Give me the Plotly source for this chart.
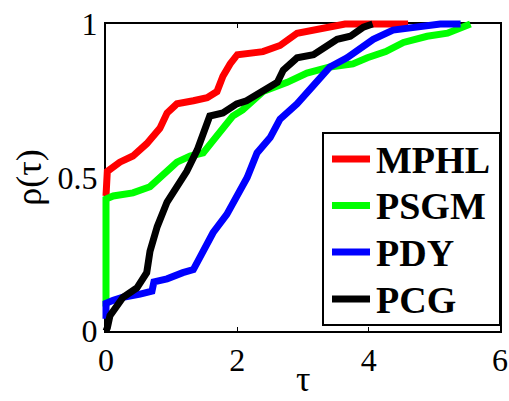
import plotly.graph_objects as go

# ---- data ----
names = ["MPHL", "PSGM", "PDY", "PCG"]
colors = ["#ff0000", "#00ff00", "#0000ff", "#000000"]

tau_mphl = [0, 0, 0.02, 0.21, 0.41, 0.62, 0.82, 0.93, 1.08, 1.33, 1.54, 1.69, 1.78, 1.89,
            2.0, 2.39, 2.65, 2.91, 3.16, 3.52, 3.64, 4.3, 4.45, 4.6]
rho_mphl = [0.44, 0.50, 0.52, 0.55, 0.57, 0.61, 0.66, 0.71, 0.74, 0.75, 0.76, 0.78, 0.83, 0.87,
            0.90, 0.91, 0.93, 0.97, 0.98, 0.995, 1.0, 1.0, 1.0, 1.0]

tau_psgm = [0, 0, 0.11, 0.41, 0.67, 0.87, 1.08, 1.28, 1.48, 1.63, 1.78, 1.93, 2.08, 2.39,
            2.76, 3.06, 3.41, 3.76, 3.98, 4.26, 4.53, 4.89, 5.2, 5.55]
rho_psgm = [0.08, 0.43, 0.44, 0.45, 0.47, 0.51, 0.55, 0.57, 0.58, 0.62, 0.66, 0.70, 0.72, 0.78,
            0.81, 0.84, 0.86, 0.87, 0.89, 0.91, 0.94, 0.96, 0.97, 1.0]

tau_pdy = [0, 0, 0.11, 0.26, 0.52, 0.70, 0.73, 0.93, 1.17, 1.33, 1.43, 1.63, 1.84, 1.94,
           2.15, 2.3, 2.5, 2.65, 2.91, 3.16, 3.41, 3.67, 3.92, 4.07, 4.37, 4.74, 5.09, 5.40]
rho_pdy = [0.04, 0.09, 0.10, 0.11, 0.12, 0.13, 0.16, 0.17, 0.19, 0.20, 0.24, 0.32, 0.38, 0.42,
           0.50, 0.58, 0.63, 0.69, 0.74, 0.80, 0.86, 0.89, 0.93, 0.95, 0.98, 0.99, 1.0, 1.0]

tau_pcg = [0, 0.02, 0.06, 0.26, 0.47, 0.62, 0.67, 0.78, 0.93, 1.13, 1.23, 1.39, 1.48, 1.58,
           1.78, 1.99, 2.14, 2.39, 2.61, 2.70, 2.91, 3.16, 3.31, 3.52, 3.72, 3.92, 4.06]
rho_pcg = [0.0, 0.01, 0.05, 0.11, 0.14, 0.19, 0.26, 0.34, 0.42, 0.49, 0.52, 0.59, 0.64, 0.70,
           0.71, 0.74, 0.75, 0.78, 0.81, 0.85, 0.89, 0.90, 0.92, 0.95, 0.96, 0.99, 1.0]

x_ticks = [0, 2, 4, 6]
y_ticks = [0, 0.5, 1]
y_ticktext = ["0", "0.5", "1"]
x_range = [0, 6]
y_range = [0, 1]
x_title = "τ"
y_title = "ρ(τ)"

series = [(tau_mphl, rho_mphl), (tau_psgm, rho_psgm), (tau_pdy, rho_pdy), (tau_pcg, rho_pcg)]

W, H = 509, 401
# box (axes frame) in pixels
BX0, BX1, BY0, BY1 = 106, 500, 24, 331
PAD = 6  # extra room around the frame so thick lines are not clipped
L, R, T, B = BX0 - PAD, W - (BX1 + PAD), BY0 - PAD, H - (BY1 + PAD)
PW, PH = W - L - R, H - T - B

def px_x(p):  # pixel -> paper fraction
    return (p - L) / PW

def px_y(p):
    return (H - B - p) / PH

# data axes span the full padded area, with ranges widened to match the frame
ux = (x_range[1] - x_range[0]) / (BX1 - BX0)
uy = (y_range[1] - y_range[0]) / (BY1 - BY0)
x2_range = [x_range[0] - PAD * ux, x_range[1] + PAD * ux]
y2_range = [y_range[0] - PAD * uy, y_range[1] + PAD * uy]

fig = go.Figure()
# empty trace so the frame axes (x, y) are drawn
fig.add_trace(go.Scatter(x=[None], y=[None], mode="lines", showlegend=False,
                         hoverinfo="skip", xaxis="x", yaxis="y"))
for (xs, ys), name, col in zip(series, names, colors):
    fig.add_trace(go.Scatter(x=xs, y=ys, mode="lines", name=name, showlegend=False,
                             xaxis="x2", yaxis="y2",
                             line=dict(color=col, width=7)))

serif = "Liberation Serif"
axis_common = dict(showline=True, linecolor="black", linewidth=2, mirror="ticks",
                   ticks="inside", ticklen=4, tickcolor="black", tickwidth=1,
                   showgrid=False, zeroline=False, automargin=False, fixedrange=True,
                   tickfont=dict(family=serif, size=32, color="black"))

# ---- legend drawn as a box, line samples and bold labels ----
shapes = [dict(type="rect", xref="paper", yref="paper",
               x0=px_x(323), x1=px_x(500), y0=px_y(325), y1=px_y(133),
               line=dict(color="black", width=2), fillcolor="white", layer="above")]
annotations = []
leg_y = [160, 206.5, 253, 300]
for name, col, yc in zip(names, colors, leg_y):
    shapes.append(dict(type="line", xref="paper", yref="paper",
                       x0=px_x(332), x1=px_x(370), y0=px_y(yc - 1), y1=px_y(yc - 1),
                       line=dict(color=col, width=7), layer="above"))
    annotations.append(dict(xref="paper", yref="paper", x=px_x(374), y=px_y(yc),
                            xanchor="left", yanchor="middle", showarrow=False,
                            text="<b>%s</b>" % name,
                            font=dict(family=serif, size=38, color="black")))

# x-axis title placed below the tick labels, kept inside the figure
annotations.append(dict(xref="paper", yref="paper", x=px_x(303), y=px_y(401),
                        xanchor="center", yanchor="bottom", showarrow=False,
                        text=x_title, font=dict(family=serif, size=36, color="black")))

fig.update_layout(
    width=W, height=H,
    margin=dict(l=L, r=R, t=T, b=B),
    paper_bgcolor="white", plot_bgcolor="rgba(0,0,0,0)",
    xaxis=dict(range=x_range, tickvals=x_ticks, ticktext=[str(v) for v in x_ticks],
               domain=[px_x(BX0), px_x(BX1)], anchor="y",
               **axis_common),
    yaxis=dict(range=y_range, tickvals=y_ticks, ticktext=y_ticktext,
               domain=[px_y(BY1), px_y(BY0)], anchor="x",
               title=dict(text=y_title, font=dict(family=serif, size=36, color="black"), standoff=5),
               **axis_common),
    xaxis2=dict(range=x2_range, domain=[0, 1], anchor="y2", visible=False, fixedrange=True),
    yaxis2=dict(range=y2_range, domain=[0, 1], anchor="x2", visible=False, fixedrange=True),
    shapes=shapes,
    annotations=annotations,
    showlegend=False,
)

fig.write_html("out.html")
